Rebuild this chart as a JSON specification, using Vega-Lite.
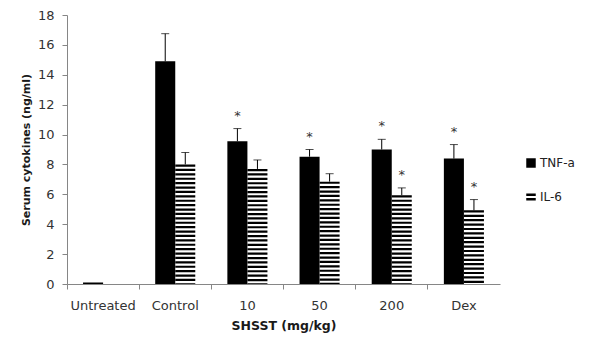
{
  "$schema": "https://vega.github.io/schema/vega-lite/v6.json",
  "width": 433,
  "height": 269,
  "autosize": {"type": "none"},
  "padding": {"left": 67, "top": 15, "right": 90, "bottom": 60},
  "background": "white",
  "config": {
    "view": {"stroke": null},
    "font": "DejaVu Sans",
    "axis": {"domainColor": "#868686", "tickColor": "#868686", "labelColor": "#333333", "labelFont": "DejaVu Sans", "labelFontSize": 13, "titleFont": "DejaVu Sans", "titleFontSize": 12.5, "titleFontWeight": "bold", "titleColor": "#1a1a1a", "grid": false},
    "axisY": {"labelOverlap": false, "titleFontSize": 11}
  },
  "data": {
    "values": [
      {"cat": "Untreated", "series": "TNF-a", "value": 0.1, "upper": null, "sig": false},
      {"cat": "Untreated", "series": "IL-6", "value": 0, "upper": null, "sig": false},
      {"cat": "Control", "series": "TNF-a", "value": 14.9, "upper": 16.75, "sig": false},
      {"cat": "Control", "series": "IL-6", "value": 8.0, "upper": 8.8, "sig": false},
      {"cat": "10", "series": "TNF-a", "value": 9.55, "upper": 10.4, "sig": true},
      {"cat": "10", "series": "IL-6", "value": 7.7, "upper": 8.3, "sig": false},
      {"cat": "50", "series": "TNF-a", "value": 8.52, "upper": 9.0, "sig": true},
      {"cat": "50", "series": "IL-6", "value": 6.85, "upper": 7.38, "sig": false},
      {"cat": "200", "series": "TNF-a", "value": 9.0, "upper": 9.68, "sig": true},
      {"cat": "200", "series": "IL-6", "value": 5.94, "upper": 6.43, "sig": true},
      {"cat": "Dex", "series": "TNF-a", "value": 8.39, "upper": 9.33, "sig": true},
      {"cat": "Dex", "series": "IL-6", "value": 4.93, "upper": 5.65, "sig": true}
    ]
  },
  "encoding": {
    "x": {
      "field": "cat", "type": "nominal",
      "sort": ["Untreated", "Control", "10", "50", "200", "Dex"],
      "scale": {"paddingInner": 0, "paddingOuter": 0},
      "axis": {"title": "SHSST (mg/kg)", "labelAngle": 0, "bandPosition": 0, "tickSize": 5, "labelPadding": 10, "titlePadding": 7, "domainWidth": 1}
    },
    "xOffset": {
      "field": "series", "type": "nominal",
      "sort": ["TNF-a", "IL-6"],
      "scale": {"paddingInner": 0, "paddingOuter": 0.8}
    }
  },
  "layer": [
    {
      "transform": [{"filter": "datum.series === 'TNF-a'"}],
      "mark": {"type": "bar", "color": "black"},
      "encoding": {
        "y": {"field": "value", "type": "quantitative", "scale": {"domain": [0, 18], "nice": false},
          "axis": {"title": "Serum cytokines (ng/ml)", "values": [0,2,4,6,8,10,12,14,16,18], "tickSize": 5, "labelPadding": 8, "titlePadding": 6}}
      }
    },
    {
      "transform": [{"filter": "datum.series === 'IL-6' && datum.value > 0"}],
      "mark": {"type": "rule", "color": "black", "strokeWidth": 20, "strokeDash": [2.2, 2.2], "strokeCap": "butt"},
      "encoding": {
        "y": {"field": "value", "type": "quantitative", "axis": {"title": "Serum cytokines (ng/ml)", "values": [0,2,4,6,8,10,12,14,16,18], "tickSize": 5, "labelPadding": 8, "titlePadding": 6}},
        "y2": {"datum": 0}
      }
    },
    {
      "transform": [{"filter": "datum.upper != null"}],
      "mark": {"type": "rule", "color": "black", "strokeWidth": 1},
      "encoding": {
        "y": {"field": "value", "type": "quantitative", "axis": {"title": "Serum cytokines (ng/ml)", "values": [0,2,4,6,8,10,12,14,16,18], "tickSize": 5, "labelPadding": 8, "titlePadding": 6}},
        "y2": {"field": "upper"}
      }
    },
    {
      "transform": [{"filter": "datum.upper != null"}],
      "mark": {"type": "tick", "color": "black", "orient": "horizontal", "size": 8, "thickness": 1},
      "encoding": {
        "y": {"field": "upper", "type": "quantitative", "axis": {"title": "Serum cytokines (ng/ml)", "values": [0,2,4,6,8,10,12,14,16,18], "tickSize": 5, "labelPadding": 8, "titlePadding": 6}}
      }
    },
    {
      "transform": [{"filter": "datum.sig"}],
      "mark": {"type": "text", "text": "*", "fontSize": 13, "baseline": "middle", "dy": -13, "fill": "#333333", "color": "#333333"},
      "encoding": {
        "y": {"field": "upper", "type": "quantitative", "axis": {"title": "Serum cytokines (ng/ml)", "values": [0,2,4,6,8,10,12,14,16,18], "tickSize": 5, "labelPadding": 8, "titlePadding": 6}}
      }
    },
    {
      "mark": {"type": "point", "opacity": 0, "filled": true, "color": "black"},
      "encoding": {
        "y": {"field": "value", "type": "quantitative", "axis": {"title": "Serum cytokines (ng/ml)", "values": [0,2,4,6,8,10,12,14,16,18], "tickSize": 5, "labelPadding": 8, "titlePadding": 6}},
        "shape": {
          "field": "series", "type": "nominal",
          "scale": {"domain": ["TNF-a", "IL-6"], "range": ["square", "M-1,-0.75H1V-0.2H-1Z M-1,0.2H1V0.75H-1Z"]},
          "legend": {"title": null, "orient": "none", "legendX": 458, "legendY": 142, "symbolFillColor": "black", "symbolStrokeColor": "black", "symbolStrokeWidth": 0, "symbolOpacity": 1, "symbolSize": 90, "rowPadding": 22, "labelFontSize": 12, "labelColor": "#222222", "labelOffset": 3, "labelFont": "DejaVu Sans"}
        }
      }
    }
  ]
}
